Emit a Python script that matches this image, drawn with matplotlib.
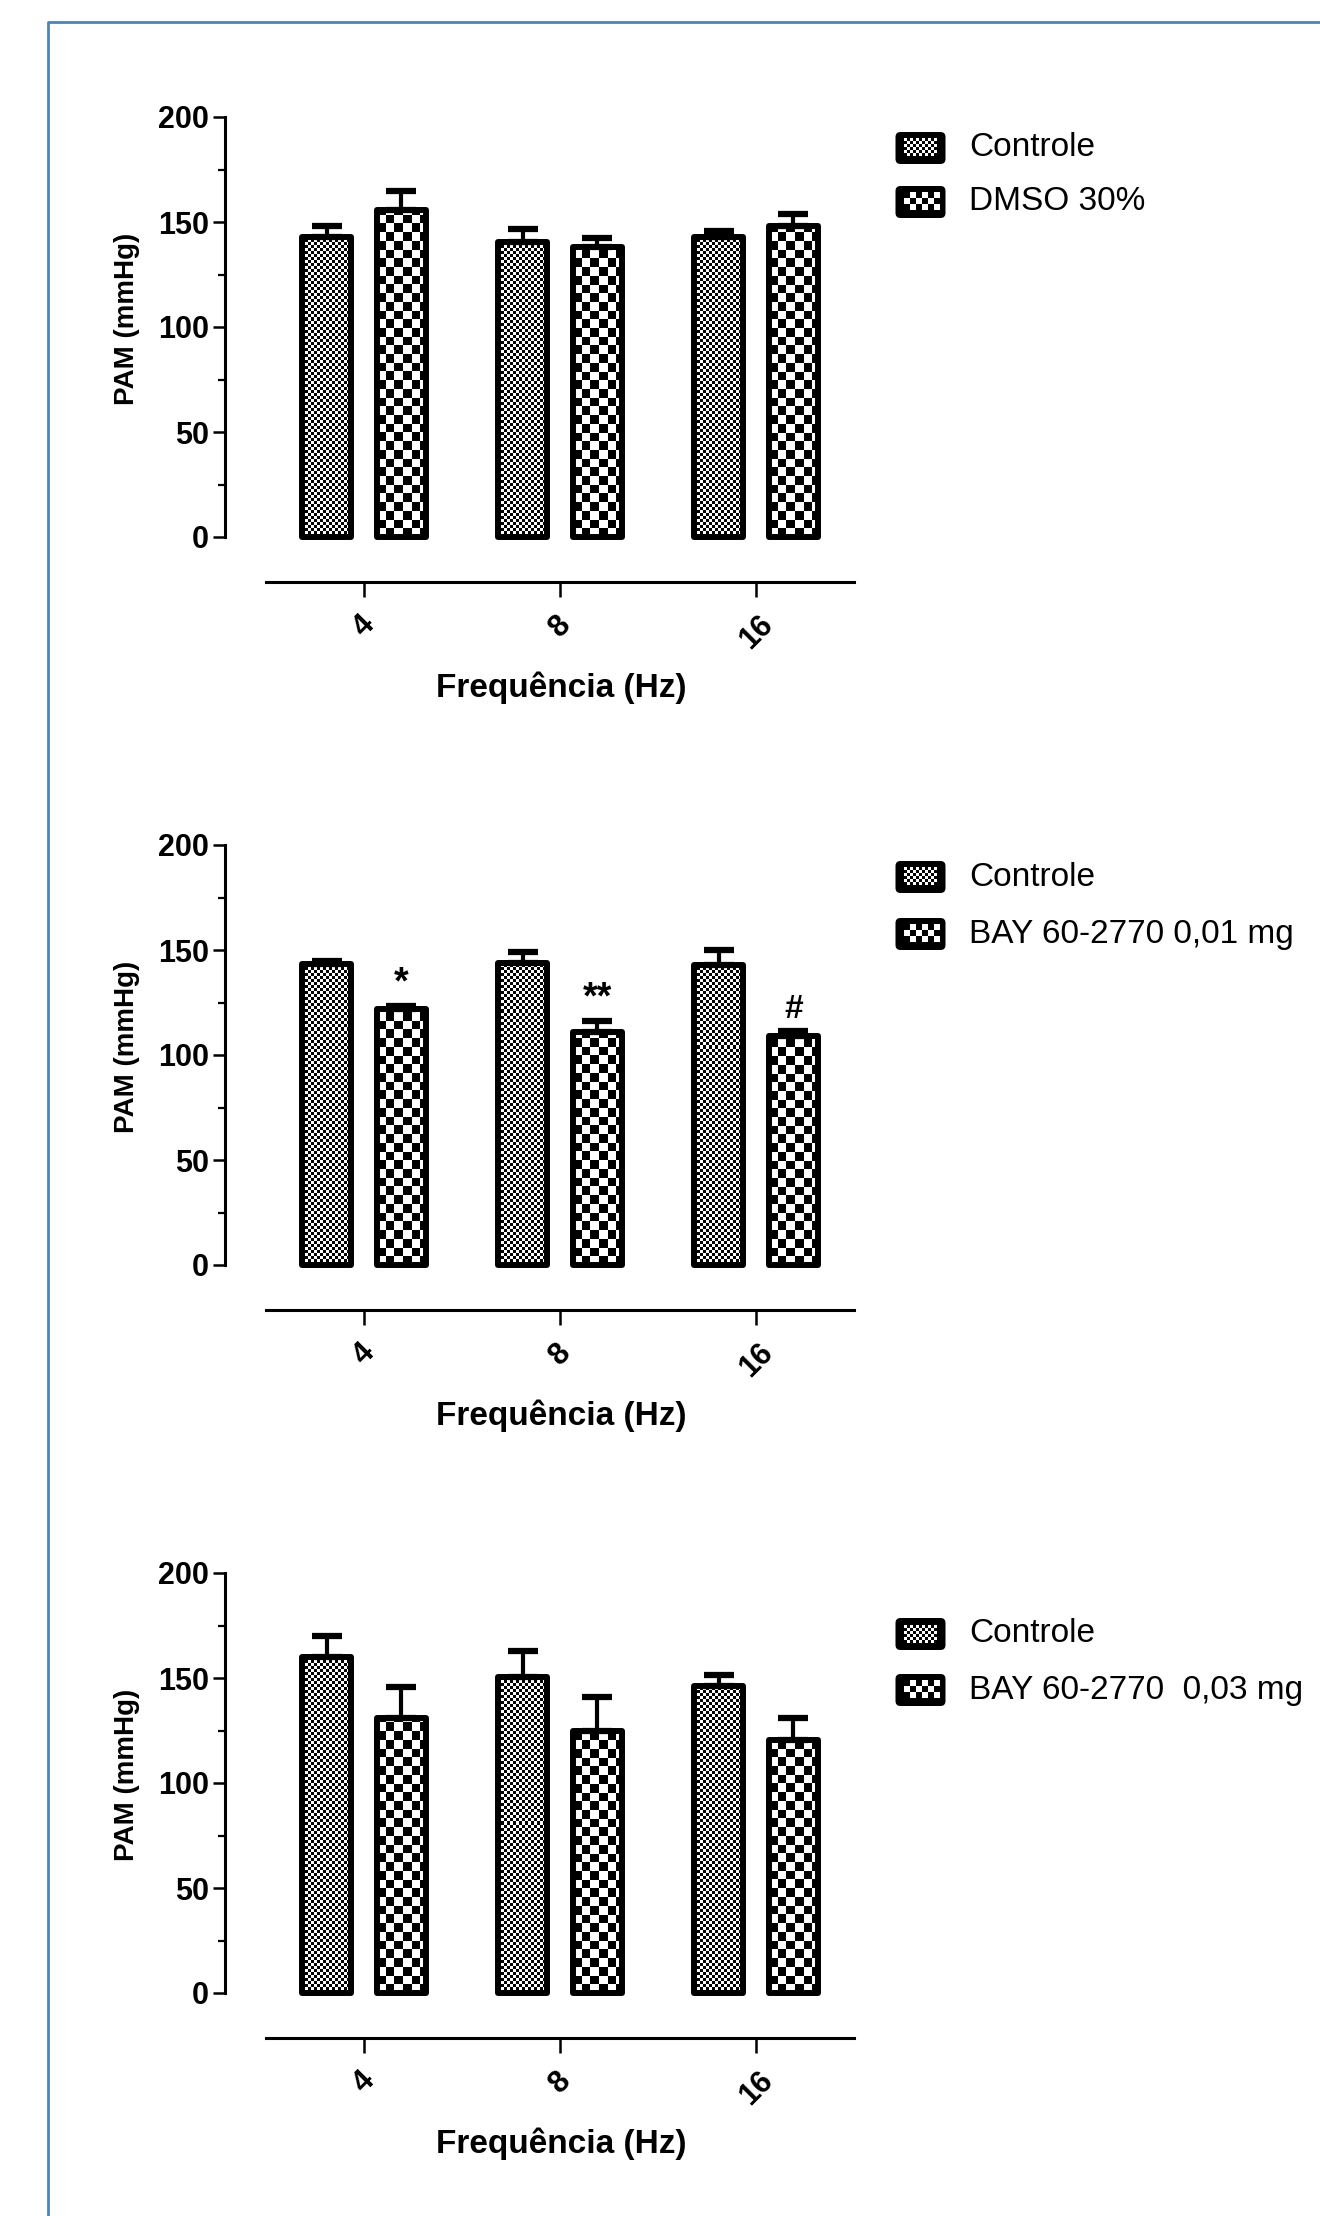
import numpy as np
import matplotlib
matplotlib.use('Agg')
import matplotlib.pyplot as plt
from matplotlib.colors import ListedColormap
from matplotlib.patches import FancyBboxPatch
from matplotlib.lines import Line2D
from matplotlib.ticker import MultipleLocator

plt.rcParams['font.family'] = ['Liberation Sans', 'DejaVu Sans']

# data (PAM, mmHg; mean + upper SEM)
freqs = ['4', '8', '16']

ctrl_a = [143, 140.5, 143]
ctrl_a_err = [5, 6, 2.5]
dmso = [155.5, 138, 148]
dmso_err = [9.5, 4.5, 6]

ctrl_b = [143.5, 144, 143]
ctrl_b_err = [1.5, 5, 7]
bay_001 = [122, 111, 109]
bay_001_err = [1.5, 5, 2.5]
bay_001_marks = ['*', '**', '#']

ctrl_c = [160, 150.5, 146]
ctrl_c_err = [10, 12.5, 5.5]
bay_003 = [131, 125, 120.5]
bay_003_err = [14.5, 16, 10.5]

panels = [
    (ctrl_a, ctrl_a_err, dmso, dmso_err, ['Controle', 'DMSO 30%'], None),
    (ctrl_b, ctrl_b_err, bay_001, bay_001_err, ['Controle', 'BAY 60-2770 0,01 mg'], bay_001_marks),
    (ctrl_c, ctrl_c_err, bay_003, bay_003_err, ['Controle', 'BAY 60-2770  0,03 mg'], None),
]

# layout in pixels
W, H = 1320, 2216
ax_left, ax_right = 225, 856
ax_tops = [117, 845, 1573]
ax_h = 420
legend_rows = [(148, 202), (877, 934), (1634, 1690)]
fine_cell, coarse_cell = 3, 8.7
bar_w, offset = 0.25, 0.19


def checker(n_rows, n_cols):
    return np.indices((n_rows, n_cols)).sum(axis=0) % 2


def checker_fill(ax, bars, cell_px):
    cmap = ListedColormap(['white', 'black'])
    for rect in bars:
        x0, w, h = rect.get_x(), rect.get_width(), rect.get_height()
        (px0, py0), (px1, py1) = ax.transData.transform([(x0, 0), (x0 + w, h)])
        ncol = int(np.ceil((px1 - px0) / cell_px))
        nrow = int(np.ceil((py1 - py0) / cell_px))
        dx = cell_px * w / (px1 - px0)
        dy = cell_px * h / (py1 - py0)
        im = ax.imshow(checker(nrow, ncol), cmap=cmap, vmin=0, vmax=1,
                       extent=(x0, x0 + ncol * dx, 0, nrow * dy), origin='lower',
                       interpolation='nearest', aspect='auto', zorder=2)
        im.set_clip_path(rect)


def legend_swatch(fig, cy, cell_px):
    bw, bh = 51, 33
    lax = fig.add_axes([895 / W, 1 - (cy + bh / 2) / H, bw / W, bh / H])
    lax.set_xlim(0, bw)
    lax.set_ylim(0, bh)
    lax.axis('off')
    lax.add_patch(FancyBboxPatch((0.5, 0.5), bw - 1, bh - 1,
                                 boxstyle='round,pad=0,rounding_size=5',
                                 fc='black', ec='none'))
    nc = int(np.ceil(33 / cell_px))
    nr = int(np.ceil(17 / cell_px))
    lax.imshow(checker(nr, nc), cmap=ListedColormap(['black', 'white']),
               extent=(9, 9 + nc * cell_px, 8, 8 + nr * cell_px), origin='lower',
               interpolation='nearest', aspect='auto', zorder=3)
    lax.set_xlim(0, bw)
    lax.set_ylim(0, bh)


fig = plt.figure(figsize=(W / 100, H / 100), dpi=100)
x = np.arange(len(freqs))
xlim = ((ax_left - 364) / 196, (ax_right - 364) / 196)

for (ctrl, ctrl_err, trt, trt_err, labels, marks), top, rows in zip(panels, ax_tops, legend_rows):
    ax = fig.add_axes([ax_left / W, 1 - (top + ax_h) / H, (ax_right - ax_left) / W, ax_h / H])
    ax.set_xlim(*xlim)
    ax.set_ylim(0, 200)

    b1 = ax.bar(x - offset, ctrl, width=bar_w, facecolor='none', edgecolor='black',
                linewidth=4.3, joinstyle='round', zorder=3, clip_on=False)
    b2 = ax.bar(x + offset, trt, width=bar_w, facecolor='none', edgecolor='black',
                linewidth=4.3, joinstyle='round', zorder=3, clip_on=False)
    checker_fill(ax, b1, fine_cell)
    checker_fill(ax, b2, coarse_cell)

    for xs, vals, errs in [(x - offset, ctrl, ctrl_err), (x + offset, trt, trt_err)]:
        ax.errorbar(xs, vals, yerr=[np.zeros(len(vals)), errs], fmt='none', ecolor='black',
                    elinewidth=3, capsize=11, capthick=4.5, zorder=4, clip_on=False)

    if marks:
        for xi, v, e, m in zip(x + offset, trt, trt_err, marks):
            ax.text(xi, v + e + 6, m, ha='center', va='baseline',
                    fontsize=24 if m == '#' else 27, fontweight='bold')

    ax.set_xlim(*xlim)
    ax.set_ylim(0, 200)

    for s in ['top', 'right']:
        ax.spines[s].set_visible(False)
    ax.spines['left'].set_linewidth(2.2)
    ax.spines['bottom'].set_linewidth(2.2)
    ax.spines['bottom'].set_position(('outward', 32.4))
    ax.spines['bottom'].set_bounds(-0.5, 2.5)

    ax.set_yticks([0, 50, 100, 150, 200])
    ax.yaxis.set_minor_locator(MultipleLocator(25))
    ax.tick_params(axis='y', which='major', length=8.6, width=1.8, labelsize=22, pad=3)
    ax.tick_params(axis='y', which='minor', length=5, width=1.6)
    for lab in ax.get_yticklabels():
        lab.set_fontweight('bold')

    ax.set_xticks(x)
    ax.set_xticklabels(freqs, rotation=45, fontsize=22, fontweight='bold')
    ax.tick_params(axis='x', length=10.8, width=1.8, pad=9)

    ax.set_ylabel('PAM (mmHg)', fontsize=20, fontweight='bold', va='center')
    ax.yaxis.set_label_coords(-0.155, 0.52)
    ax.set_xlabel('Frequência (Hz)', fontsize=24, fontweight='bold', va='center')
    ax.xaxis.set_label_coords(0.5325, -0.36)

    legend_swatch(fig, rows[0], fine_cell)
    legend_swatch(fig, rows[1], 6)
    for cy, lab in zip(rows, labels):
        fig.text(969 / W, 1 - cy / H, lab, ha='left', va='center', fontsize=24)

# blue frame (top and left edges visible)
fig.add_artist(Line2D([48 / W, 48 / W, 1], [0, 1 - 22 / H, 1 - 22 / H],
                      color='#4F81BD', linewidth=2, transform=fig.transFigure))

fig.savefig('out.png', dpi=100)
